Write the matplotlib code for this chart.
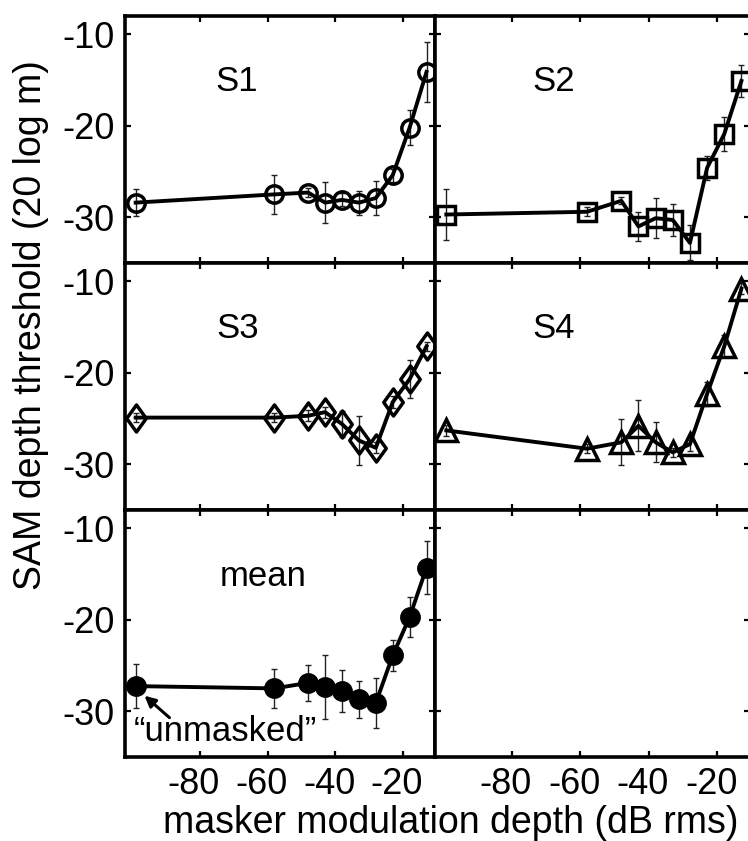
import matplotlib
matplotlib.use("Agg")
import matplotlib.pyplot as plt
from matplotlib.path import Path
from matplotlib.transforms import ScaledTranslation

plt.rcParams['font.family'] = ['Liberation Sans', 'DejaVu Sans']
plt.rcParams['axes.unicode_minus'] = False

# ---- data ----
masker_db = [-99, -58, -48, -43, -38, -33, -28, -23, -18, -13]

s1 = [-28.4, -27.5, -27.3, -28.4, -28.1, -28.4, -27.9, -25.4, -20.2, -14.1]
s1_err = [1.5, 2.1, 0.5, 2.2, 0.7, 1.3, 1.9, 0.7, 1.9, 3.3]

s2 = [-29.7, -29.4, -28.2, -31.0, -30.1, -30.3, -32.8, -24.6, -20.9, -15.1]
s2_err = [2.8, 0.5, 0.4, 1.6, 2.2, 1.8, 1.9, 1.3, 1.9, 1.7]

s3 = [-24.9, -24.9, -24.7, -24.3, -25.6, -27.4, -28.2, -23.2, -20.7, -17.1]
s3_err = [0.5, 0.5, 0.6, 0.6, 1.4, 2.7, 0.6, 0.7, 2.1, 0.5]

s4 = [-26.3, -28.3, -27.6, -25.8, -27.6, -28.7, -27.8, -22.3, -17.1, -10.8]
s4_err = [0.6, 0.5, 2.5, 2.8, 2.2, 0.5, 0.7, 1.3, 1.2, 0.6]

mean = [-27.25, -27.5, -26.9, -27.4, -27.8, -28.7, -29.1, -23.9, -19.7, -14.3]
mean_err = [2.4, 2.1, 2.0, 3.5, 2.3, 2.0, 2.7, 1.7, 2.2, 2.9]

panel_names = ["S1", "S2", "S3", "S4", "mean"]
x_ticks = [-80, -60, -40, -20]
y_ticks = [-10, -20, -30]

# ---- layout ----
W, H = 748, 841
fig = plt.figure(figsize=(W / 100, H / 100), dpi=100)

xl = [124.5, 435, 750]
yl = [16, 263, 510, 757]

tall_diamond = Path([(0, 1), (0.72, 0), (0, -1), (-0.72, 0), (0, 1)],
                    [Path.MOVETO, Path.LINETO, Path.LINETO, Path.LINETO, Path.CLOSEPOLY])

shift = ScaledTranslation(-6 / 100, 0, fig.dpi_scale_trans)

axes = {}
for r in range(3):
    for c in range(2):
        left = xl[c] / W
        width = (xl[c + 1] - xl[c]) / W
        bottom = 1 - yl[r + 1] / H
        height = (yl[r + 1] - yl[r]) / H
        ax = fig.add_axes([left, bottom, width, height])
        ax.set_xlim(-102.3, -10.5)
        ax.set_ylim(-35, -8)
        ax.set_xticks(x_ticks)
        ax.set_yticks(y_ticks)
        ax.tick_params(direction='in', length=4, width=1.6, top=True, right=True,
                       labelsize=26, labelleft=(c == 0), labelbottom=(r == 2),
                       pad=7)
        for sp in ax.spines.values():
            sp.set_linewidth(2.6)
        if r == 2:
            for lab in ax.get_xticklabels():
                lab.set_transform(lab.get_transform() + shift)
        axes[(r, c)] = ax

series = [
    ((0, 0), s1, s1_err, 'o', 12.5, 'none'),
    ((0, 1), s2, s2_err, 's', 12.5, 'none'),
    ((1, 0), s3, s3_err, tall_diamond, 19.5, 'none'),
    ((1, 1), s4, s4_err, '^', 16, 'none'),
    ((2, 0), mean, mean_err, 'o', 12.5, 'black'),
]

for (key, vals, errs, mk, ms, mfc), name in zip(series, panel_names):
    ax = axes[key]
    ax.errorbar(masker_db, vals, yerr=errs, fmt='none', ecolor='#222222',
                elinewidth=1.0, capsize=2.5, capthick=1.0, zorder=2)
    ax.plot(masker_db, vals, color='black', lw=2.8, marker=mk, ms=ms,
            mfc=mfc, mec='black', mew=2.5, zorder=3)

label_pos = {"S1": (-69.1, -15.2), "S2": (-67.8, -15.2), "S3": (-68.8, -15.2),
             "S4": (-67.8, -15.2), "mean": (-61.4, -15.3)}
for (key, *_), name in zip(series, panel_names):
    x, y = label_pos[name]
    axes[key].text(x, y, name, fontsize=25, ha='center', va='center')

# "unmasked" annotation on mean panel
axm = axes[(2, 0)]
axm.text(-72.4, -33.2, "\u201cunmasked\u201d", fontsize=25, ha='center', va='baseline')
axm.annotate('', xy=(-96.4, -28.3), xytext=(-89.0, -30.7),
             arrowprops=dict(arrowstyle='-|>', color='black', lw=2.2,
                             mutation_scale=16, shrinkA=0, shrinkB=0))

fig.text(451 / W, 1 - 833 / H, "masker modulation depth (dB rms)", fontsize=27,
         ha='center', va='baseline')
fig.text(31 / W, 1 - 325 / H, "SAM depth threshold (20 log m)", fontsize=27,
         ha='center', va='center', rotation=90)

fig.savefig("out.png", dpi=100)
